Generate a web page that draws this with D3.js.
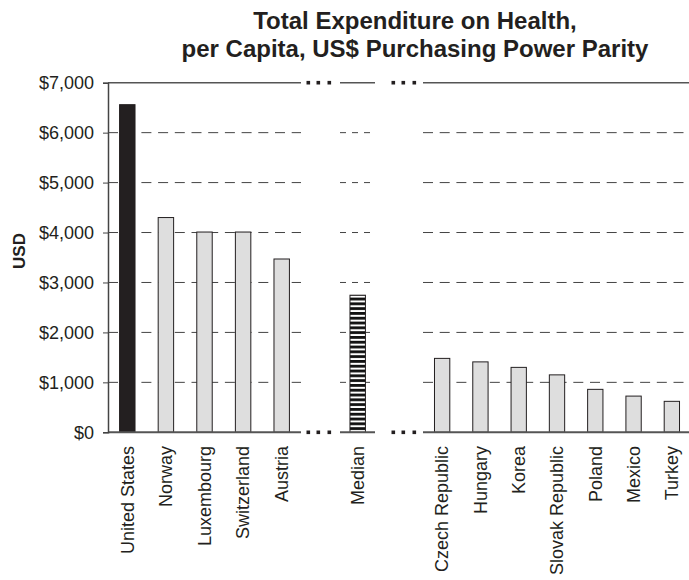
<!DOCTYPE html>
<html>
<head>
<meta charset="utf-8">
<style>
    body { margin: 0; padding: 0; overflow: hidden; background-color: #fff; }
    text { font-family: "Liberation Sans", Arial, sans-serif; fill: #231f20; }
</style>
</head>
<body>
<div id="chart"></div>
<script src="https://d3js.org/d3.v7.min.js"></script>
<script>
    var topCountries = ["United States", "Norway", "Luxembourg", "Switzerland", "Austria"];
    var topValues = [6560, 4300, 4010, 4010, 3470];
    var medianLabels = ["Median"];
    var medianValues = [2745];
    var lowCountries = ["Czech Republic", "Hungary", "Korea", "Slovak Republic", "Poland", "Mexico", "Turkey"];
    var lowValues = [1480, 1410, 1300, 1150, 860, 725, 620];
    var yTicks = [0, 1000, 2000, 3000, 4000, 5000, 6000, 7000];

    var width = 689, height = 580;

    var svg = d3.select("#chart").append("svg")
        .attr("width", width)
        .attr("height", height);

    // stripes for the median bar
    var pat = svg.append("defs").append("pattern")
        .attr("id", "stripes")
        .attr("patternUnits", "userSpaceOnUse")
        .attr("width", 10).attr("height", 4.8);
    pat.append("rect").attr("width", 10).attr("height", 4.8).attr("fill", "#fff");
    pat.append("rect").attr("width", 10).attr("height", 2.8).attr("fill", "#111");

    var y = d3.scaleLinear().domain([0, 7000]).range([432.3, 82.7]);

    function band(names, r) {
        return d3.scaleBand().domain(names).range(r).paddingInner(0.6).paddingOuter(0.3);
    }

    var segments = [
        { names: topCountries, values: topValues, x: band(topCountries, [108, 301]), extent: [108, 301], dash: "10,6.7" },
        { names: medianLabels, values: medianValues, x: band(medianLabels, [338.4, 377]), extent: [340, 375], dash: "6,6" },
        { names: lowCountries, values: lowValues, x: band(lowCountries, [423, 691]), extent: [423, 689], dash: "10,6.7" }
    ];

    // gridlines
    segments.forEach(function(s) {
        svg.append("g").selectAll("line")
            .data(yTicks.filter(function(t) { return t > 0 && t < 7000; }))
            .enter().append("line")
            .attr("x1", s.extent[0]).attr("x2", s.extent[1])
            .attr("y1", function(d) { return y(d); })
            .attr("y2", function(d) { return y(d); })
            .attr("stroke", "#444")
            .attr("stroke-width", 1)
            .attr("stroke-dasharray", s.dash);
    });

    // bars
    segments.forEach(function(s, si) {
        svg.append("g").selectAll("rect")
            .data(s.names)
            .enter().append("rect")
            .attr("x", function(d) { return s.x(d); })
            .attr("width", s.x.bandwidth())
            .attr("y", function(d, i) { return y(s.values[i]); })
            .attr("height", function(d, i) { return y(0) - y(s.values[i]); })
            .attr("fill", function(d, i) {
                if (si === 1) return "url(#stripes)";
                return (si === 0 && i === 0) ? "#231f20" : "#dedede";
            })
            .attr("stroke", "#231f20")
            .attr("stroke-width", 1);
    });

    // top and bottom frame lines of each segment
    segments.forEach(function(s) {
        svg.append("line")
            .attr("x1", s.extent[0]).attr("x2", s.extent[1])
            .attr("y1", y(7000)).attr("y2", y(7000))
            .attr("stroke", "#555").attr("stroke-width", 1.5);
        svg.append("line")
            .attr("x1", s.extent[0]).attr("x2", s.extent[1])
            .attr("y1", y(0)).attr("y2", y(0))
            .attr("stroke", "#555").attr("stroke-width", 2);
    });

    // axis break dots
    var breaks = [[308.3, 318.3, 329.3], [393.3, 403.3, 414.3]];
    breaks.forEach(function(b) {
        [7000, 0].forEach(function(v) {
            svg.append("g").selectAll("rect")
                .data(b)
                .enter().append("rect")
                .attr("x", function(d) { return d - 1.8; })
                .attr("y", y(v) - 1.8)
                .attr("width", 3.6).attr("height", 3.6)
                .attr("fill", "#231f20");
        });
    });

    // y axis
    var yAxis = svg.append("g").attr("transform", "translate(108,0)")
        .call(d3.axisLeft(y).tickValues(yTicks).tickSize(5).tickPadding(9)
            .tickFormat(function(d) { return "$" + d3.format(",")(d); }));
    yAxis.select(".domain").attr("stroke", "#444").attr("stroke-width", 1.5);
    yAxis.selectAll(".tick line").attr("stroke", "#444");
    yAxis.selectAll(".tick text")
        .attr("font-size", 18)
        .attr("font-family", "Liberation Sans, Arial, sans-serif")
        .attr("fill", "#231f20");

    // category labels
    segments.forEach(function(s) {
        svg.append("g").selectAll("text")
            .data(s.names)
            .enter().append("text")
            .attr("transform", function(d) {
                return "translate(" + (s.x(d) + s.x.bandwidth() / 2) + ",446) rotate(-90)";
            })
            .attr("text-anchor", "end")
            .attr("dy", "0.35em")
            .attr("font-size", 18)
            .text(function(d) { return d; });
    });

    // titles
    svg.append("text")
        .attr("x", 415).attr("y", 28.5)
        .attr("text-anchor", "middle")
        .attr("font-size", 24).attr("font-weight", "bold")
        .text("Total Expenditure on Health,");
    svg.append("text")
        .attr("x", 415).attr("y", 57)
        .attr("text-anchor", "middle")
        .attr("font-size", 24).attr("font-weight", "bold")
        .text("per Capita, US$ Purchasing Power Parity");

    svg.append("text")
        .attr("transform", "translate(25,251) rotate(-90)")
        .attr("text-anchor", "middle")
        .attr("font-size", 17).attr("font-weight", "bold")
        .text("USD");
</script>
</body>
</html>
